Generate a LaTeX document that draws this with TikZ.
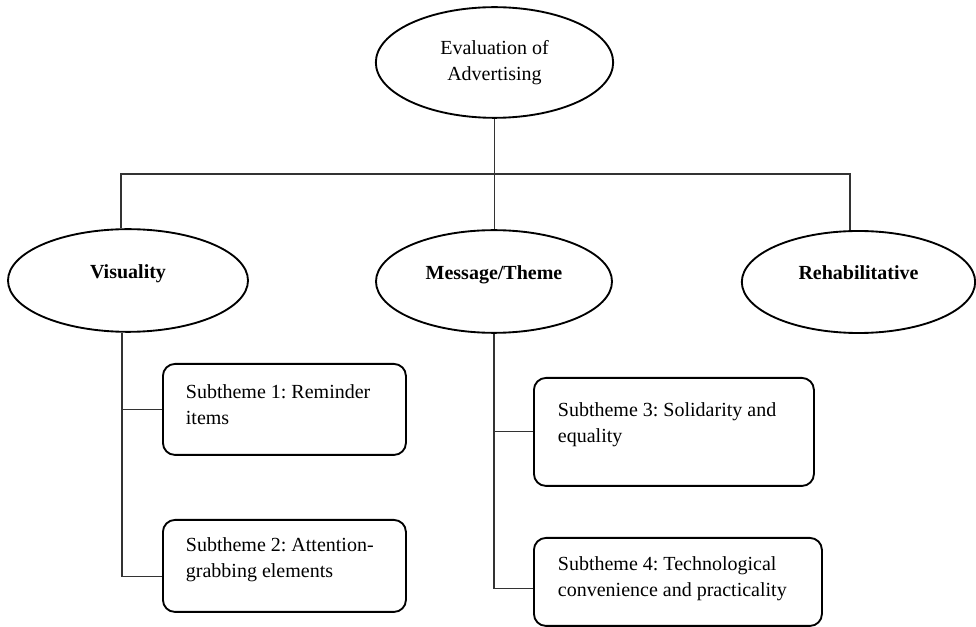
\documentclass[tikz,border=0pt]{standalone}
\usepackage{fontspec}
\setmainfont{Liberation Serif}
\usetikzlibrary{shapes.geometric}
\tikzset{
  theme/.style={
    ellipse,
    draw,
    line width=1.4pt,
    font=\bfseries,
    text height=10pt,
    text depth=13pt
  },
  subbox/.style={
    draw,
    rounded corners=9pt,
    line width=1.4pt,
    anchor=north west,
    inner xsep=17.25pt
  },
  link/.style={draw=black!80, line width=0.8pt}
}
\newcommand{\subtext}[3]{\parbox[c][#2][t]{#1}{\raggedright #3}}
\frenchspacing

\begin{document}
\fontsize{15}{19}\selectfont
\begin{tikzpicture}[x=0.75pt,y=-0.75pt]
  \useasboundingbox (0,0) rectangle (976,627);

  % main theme and the three themes
  \node[ellipse, draw, line width=1.4pt, align=center,
    minimum width=178pt, minimum height=83pt] (eval) at (494.5,62.5)
    {Evaluation of\\Advertising};
  \node[theme, minimum width=180pt, minimum height=77pt] (vis) at (128,280.5) {Visuality};
  \node[theme, minimum width=177pt, minimum height=77pt] (msg) at (494,281.5) {Message/Theme};
  \node[theme, minimum width=175pt, minimum height=76.5pt] (reh) at (858.5,282) {Rehabilitative};

  % subthemes
  \node[subbox, inner ysep=15.75pt] (sub1) at (162,363)
    {\subtext{147.75pt}{36.75pt}{Subtheme 1: Reminder\\items}};
  \node[subbox, inner ysep=13.5pt] (sub2) at (162,519)
    {\subtext{147.75pt}{42pt}{Subtheme 2: Attention-\\grabbing elements}};
  \node[subbox, inner xsep=18pt, inner ysep=18.75pt] (sub3) at (533,377)
    {\subtext{174pt}{43.5pt}{Subtheme 3: Solidarity and\\equality}};
  \node[subbox, inner xsep=18pt, inner ysep=14.25pt] (sub4) at (533,537)
    {\subtext{180pt}{37.5pt}{Subtheme 4: Technological\\convenience and practicality}};

  % links between the levels
  \coordinate (bar) at (0,174);
  \coordinate (vtop) at ([xshift=-5.25pt]vis.north);
  \coordinate (rtop) at ([xshift=-6.4pt]reh.north);
  \draw[link] (eval.south) -- (eval.south |- msg.north);
  \draw[link] (vtop) -- (vtop |- bar) -- (rtop |- bar) -- (rtop);

  % links to the subthemes
  \coordinate (vbot) at ([xshift=-4.5pt]vis.south);
  \coordinate (b2w) at ([yshift=-8.25pt]sub2.west);
  \draw[link] (vbot) -- (vbot |- b2w) -- (b2w);
  \draw[link] (vbot |- sub1.west) -- (sub1.west);
  \coordinate (b4w) at ([yshift=-5.25pt]sub4.west);
  \draw[link] (msg.south) -- (msg.south |- b4w) -- (b4w);
  \draw[link] (msg.south |- sub3.west) -- (sub3.west);
\end{tikzpicture}
\end{document}
